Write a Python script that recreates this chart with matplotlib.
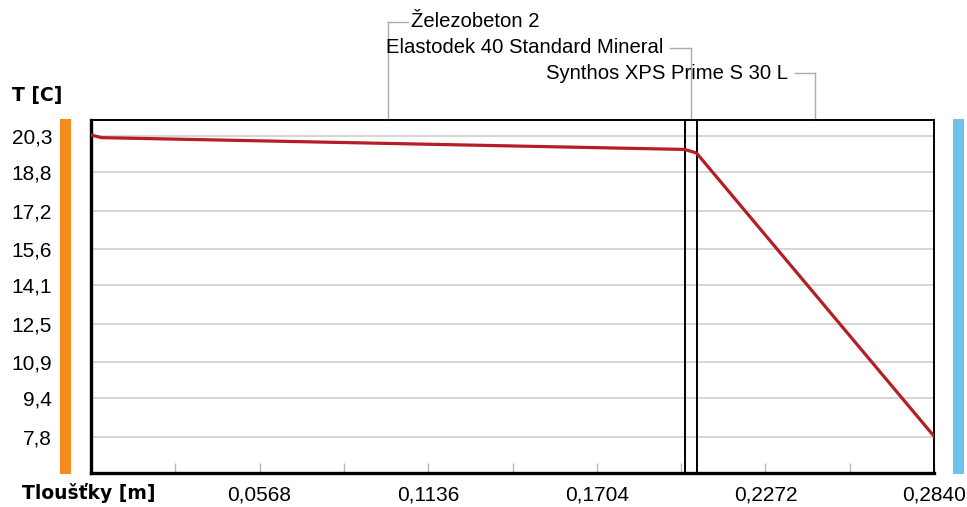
import matplotlib
matplotlib.use("Agg")
import matplotlib.pyplot as plt
import matplotlib.transforms as mtransforms
from matplotlib.patches import Rectangle
from matplotlib.ticker import MultipleLocator

plt.rcParams['font.family'] = ['Liberation Sans', 'DejaVu Sans']

# skladba konstrukce (od interieru k exterieru)
layer_names = ['Železobeton 2', 'Elastodek 40 Standard Mineral', 'Synthos XPS Prime S 30 L']
layer_thickness = [0.200, 0.004, 0.080]

# prubeh teploty v konstrukci
pos = [0.0, 0.0035, 0.200, 0.204, 0.284]
temp = [20.34, 20.23, 19.74, 19.59, 7.83]

y_ticks = [20.3, 18.8, 17.2, 15.6, 14.1, 12.5, 10.9, 9.4, 7.8]
y_labels = ['20,3', '18,8', '17,2', '15,6', '14,1', '12,5', '10,9', '9,4', '7,8']
x_ticks = [0.0568, 0.1136, 0.1704, 0.2272, 0.2840]
x_labels = ['0,0568', '0,1136', '0,1704', '0,2272', '0,2840']

# vyska popisku vrstev nad grafem (v souradnicich os) a strana textu
label_y = [1.278, 1.204, 1.133]
label_side = ['right', 'left', 'left']

fig = plt.figure(figsize=(9.67, 5.07), dpi=100)
ax = fig.add_axes([0.0941, 0.0671, 0.8718, 0.6963])

total = sum(layer_thickness)
ax.set_xlim(0, total)
ax.set_ylim(6.305, 20.964)

# mrizka
for t in y_ticks:
    ax.axhline(t, color='#d2d2d2', lw=1.3, zorder=1)

# hranice vrstev
edges = [0.0]
for d in layer_thickness:
    edges.append(edges[-1] + d)
for e in edges[1:-1]:
    ax.axvline(e, color='black', lw=1.4, zorder=3)

ax.plot(pos, temp, color='#b41e24', lw=2.3, zorder=4, solid_joinstyle='miter')

# popisky vrstev s vodicimi carami
blend = mtransforms.blended_transform_factory(ax.transData, ax.transAxes)
lead = 0.0068
for i, name in enumerate(layer_names):
    xm = (edges[i] + edges[i + 1]) / 2
    yl = label_y[i]
    ax.plot([xm, xm], [1.0, yl], color='#ababab', lw=1.0, transform=blend, clip_on=False)
    if label_side[i] == 'right':
        ax.plot([xm, xm + lead], [yl, yl], color='#ababab', lw=1.0, transform=blend, clip_on=False)
        ax.text(xm + lead + 0.001, yl, name, transform=blend, ha='left', va='center',
                fontsize=14.6, color='black')
    else:
        ax.plot([xm, xm - lead], [yl, yl], color='#ababab', lw=1.0, transform=blend, clip_on=False)
        ax.text(xm - lead - 0.0025, yl, name, transform=blend, ha='right', va='center',
                fontsize=14.6, color='black')

# barevne pruhy prostredi (interier / exterier)
ax.add_patch(Rectangle((-0.0368, -0.003), 0.0131, 1.006, transform=ax.transAxes,
                       color='#f58a1f', clip_on=False, lw=0))
ax.add_patch(Rectangle((1.0225, -0.003), 0.0131, 1.006, transform=ax.transAxes,
                       color='#6dc3eb', clip_on=False, lw=0))

ax.set_yticks(y_ticks)
ax.set_yticklabels(y_labels, fontsize=15)
ax.tick_params(axis='y', length=0, pad=28)

ax.set_xticks(x_ticks)
ax.set_xticklabels(x_labels, fontsize=15)
ax.xaxis.set_minor_locator(MultipleLocator(0.0284))
ax.tick_params(axis='x', which='both', direction='in', length=7, width=1.0,
               color='#b8b8b8', pad=9)

for side in ['left', 'bottom']:
    ax.spines[side].set_linewidth(2.4)
for side in ['top', 'right']:
    ax.spines[side].set_linewidth(1.4)

fig.text(12 / 967, 1 - 95 / 507, 'T [C]', fontsize=13.5, fontweight='bold',
         family='DejaVu Sans', va='center', ha='left')
fig.text(22 / 967, 1 - 493 / 507, 'Tloušťky [m]', fontsize=13.5, fontweight='bold',
         family='DejaVu Sans', va='center', ha='left')

fig.savefig('out.png', dpi=100)
